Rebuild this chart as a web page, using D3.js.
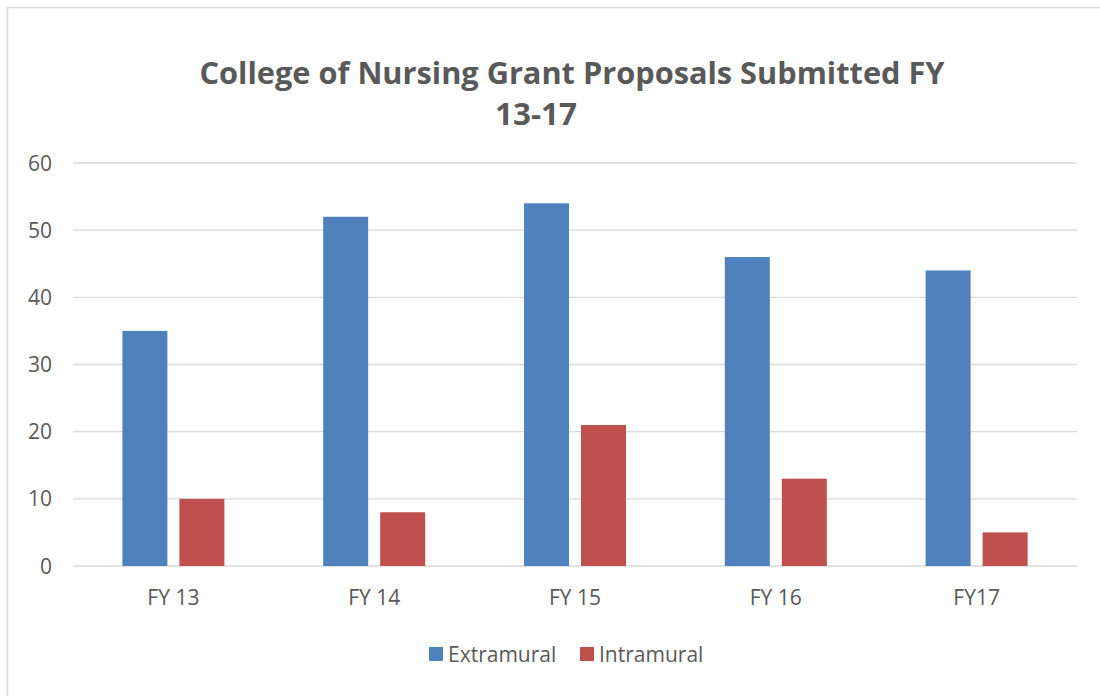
<!DOCTYPE html>
<html>
<head>
<meta charset="utf-8">
<script src="https://cdn.jsdelivr.net/npm/d3@7"></script>
<style>
  body { margin: 0; background: #fff; }
  svg { display: block; font-family: "Open Sans", "Noto Sans", sans-serif; }
</style>
</head>
<body>
<svg id="chart"></svg>
<script>
// Data
const categories = ["FY 13", "FY 14", "FY 15", "FY 16", "FY17"];
const extramural = [35, 52, 54, 46, 44];
const intramural = [10, 8, 21, 13, 5];
const seriesNames = ["Extramural", "Intramural"];
const seriesColors = ["#4f81bd", "#c0504d"];
const yTicks = [0, 10, 20, 30, 40, 50, 60];

const width = 1100, height = 696;
const margin = { top: 163, right: 23, bottom: 130, left: 73 };

const svg = d3.select("#chart")
    .attr("width", width)
    .attr("height", height);

// Outer frame (only top and left edges show)
svg.append("line")
    .attr("x1", 8).attr("x2", width).attr("y1", 7.5).attr("y2", 7.5)
    .attr("stroke", "#d9d9d9").attr("stroke-width", 1.5);
svg.append("line")
    .attr("x1", 7.5).attr("x2", 7.5).attr("y1", 7).attr("y2", height)
    .attr("stroke", "#d9d9d9").attr("stroke-width", 1.5);

// Scales
const x = d3.scaleBand()
    .domain(categories)
    .range([margin.left, width - margin.right]);

const y = d3.scaleLinear()
    .domain([0, 60])
    .range([height - margin.bottom, margin.top]);

const barW = 45, gap = 12;

// Gridlines
svg.append("g")
    .selectAll("line")
    .data(yTicks)
    .enter().append("line")
    .attr("x1", margin.left)
    .attr("x2", width - margin.right)
    .attr("y1", d => y(d))
    .attr("y2", d => y(d))
    .attr("stroke", "#d9d9d9")
    .attr("stroke-width", 1.3);

// Y labels
svg.append("g")
    .selectAll("text")
    .data(yTicks)
    .enter().append("text")
    .attr("x", 52)
    .attr("y", d => y(d))
    .attr("dy", "0.36em")
    .attr("text-anchor", "end")
    .attr("fill", "#595959")
    .style("font-size", "21px")
    .text(d => d);

// Bars
const rows = categories.map((c, i) => ({ cat: c, vals: [extramural[i], intramural[i]] }));

rows.forEach(r => {
    const cx = x(r.cat) + x.bandwidth() / 2;
    r.vals.forEach((v, j) => {
        const x0 = j === 0 ? cx - gap / 2 - barW : cx + gap / 2;
        svg.append("rect")
            .attr("x", x0)
            .attr("y", y(v))
            .attr("width", barW)
            .attr("height", y(0) - y(v))
            .attr("fill", seriesColors[j]);
    });
});

// X labels
svg.append("g")
    .selectAll("text")
    .data(categories)
    .enter().append("text")
    .attr("x", d => x(d) + x.bandwidth() / 2)
    .attr("y", 605)
    .attr("text-anchor", "middle")
    .attr("fill", "#595959")
    .style("font-size", "21px")
    .text(d => d);

// Title
const titleLines = ["College of Nursing Grant Proposals Submitted FY", "13-17"];
const titleX = [572, 536];
svg.append("g")
    .selectAll("text")
    .data(titleLines)
    .enter().append("text")
    .attr("x", (d, i) => titleX[i])
    .attr("y", (d, i) => 84 + i * 41)
    .attr("text-anchor", "middle")
    .attr("fill", "#595959")
    .style("font-size", "31px")
    .style("font-weight", "bold")
    .attr("textLength", (d, i) => i === 0 ? 745 : 82)
    .attr("lengthAdjust", "spacingAndGlyphs")
    .text(d => d);

// Legend
const legendX = [429, 580];
const legend = svg.append("g");
seriesNames.forEach((name, i) => {
    legend.append("rect")
        .attr("x", legendX[i])
        .attr("y", 647)
        .attr("width", 14)
        .attr("height", 14)
        .attr("fill", seriesColors[i]);
    legend.append("text")
        .attr("x", legendX[i] + 19)
        .attr("y", 662)
        .attr("fill", "#595959")
        .style("font-size", "21px")
        .text(name);
});
</script>
</body>
</html>
